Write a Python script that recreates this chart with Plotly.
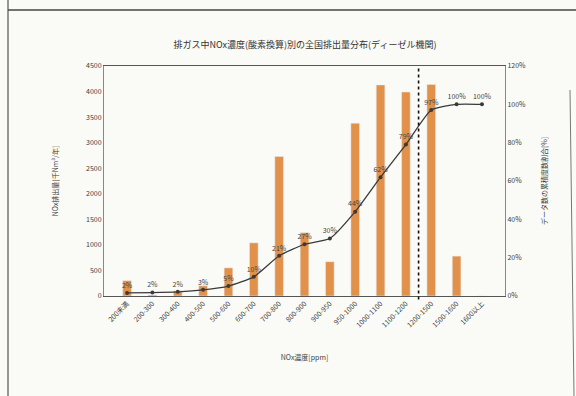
import plotly.graph_objects as go

categories = ["200未満", "200-300", "300-400", "400-500", "500-600", "600-700",
              "700-800", "800-900", "900-950", "950-1000", "1000-1100",
              "1100-1200", "1200-1500", "1500-1600", "1600以上"]
emission = [300, 20, 100, 200, 550, 1040, 2730, 1240, 670, 3380, 4130, 3990, 4140, 780, 0]
cumulative_pct = [1.6, 1.8, 2.2, 3.2, 5.2, 10, 21, 27, 30, 44, 62, 79, 97, 100, 100]
left_ticks = [0, 500, 1000, 1500, 2000, 2500, 3000, 3500, 4000, 4500]
right_ticks = [0, 20, 40, 60, 80, 100, 120]
right_tick_text = [f"{v}%" for v in right_ticks]

FONT = "Noto Sans CJK JP"
L, R, T, B = 104, 505, 66, 296
W, H = 576, 396
TXT = "#3c3c3c"


def px(x):
    return (x - L) / (R - L)


def py(y):
    return (B - y) / (B - T)


fig = go.Figure()
fig.add_trace(go.Bar(x=categories, y=emission, marker_color="#E2914A",
                     width=0.34, yaxis="y", showlegend=False))
fig.add_trace(go.Scatter(x=categories, y=cumulative_pct, yaxis="y2",
                         mode="lines+markers+text",
                         line=dict(color="#3a3a3a", width=1.3, shape="spline", smoothing=0.5),
                         marker=dict(size=4, color="#3a3a3a"),
                         text=cumulative_pct, texttemplate="%{text:.0f}%",
                         textposition="top center",
                         textfont=dict(size=7, color="#444", family=FONT),
                         showlegend=False, cliponaxis=False))

shapes = [
    dict(type="line", xref="x", yref="paper", x0=11.5, x1=11.5, y0=-0.015, y1=1,
         line=dict(color="#111", width=1.6, dash="dot")),
    dict(type="line", xref="paper", yref="paper", x0=px(8), x1=px(8), y0=py(0), y1=py(396),
         line=dict(color="#555", width=1.2)),
    dict(type="line", xref="paper", yref="paper", x0=px(8), x1=px(576), y0=py(10), y1=py(10),
         line=dict(color="#444", width=1.5)),
    dict(type="line", xref="paper", yref="paper", x0=px(570), x1=px(574), y0=py(90), y1=py(396),
         line=dict(color="#777", width=1)),
]

fig.update_layout(
    width=W, height=H,
    margin=dict(l=L, r=W - R, t=T, b=H - B),
    paper_bgcolor="#FAFAF6", plot_bgcolor="#FAFAF6",
    font=dict(family=FONT, size=7, color=TXT),
    title=dict(text="排ガス中NOx濃度(酸素換算)別の全国排出量分布(ディーゼル機関)",
               x=305 / W, xanchor="center", y=1 - 45 / H, yanchor="middle",
               font=dict(size=9, color="#333", family=FONT)),
    xaxis=dict(type="category", tickangle=-45, showline=True, linecolor="#555",
               linewidth=1, mirror=True, ticks="", showgrid=False,
               tickfont=dict(size=7, color=TXT, family=FONT),
               title=dict(text="NOx濃度[ppm]", font=dict(size=7, color=TXT, family=FONT), standoff=26)),
    yaxis=dict(range=[0, 4500], tickmode="array", tickvals=left_ticks, showgrid=False,
               showline=True, linecolor="#888", linewidth=1, ticks="",
               zeroline=False, tickfont=dict(size=7, color=TXT, family=FONT),
               title=dict(text="NOx排出量[千Nm³/年]", font=dict(size=7, color=TXT, family=FONT), standoff=26)),
    yaxis2=dict(range=[0, 120], tickmode="array", tickvals=right_ticks, ticktext=right_tick_text,
                overlaying="y", side="right", showgrid=False, showline=True, linecolor="#888",
                linewidth=1, ticks="", zeroline=False,
                tickfont=dict(size=7, color=TXT, family=FONT),
                title=dict(text="データ数の累積度数割合[%]", font=dict(size=7, color=TXT, family=FONT), standoff=17)),
    shapes=shapes,
)

fig.write_html("out.html")
